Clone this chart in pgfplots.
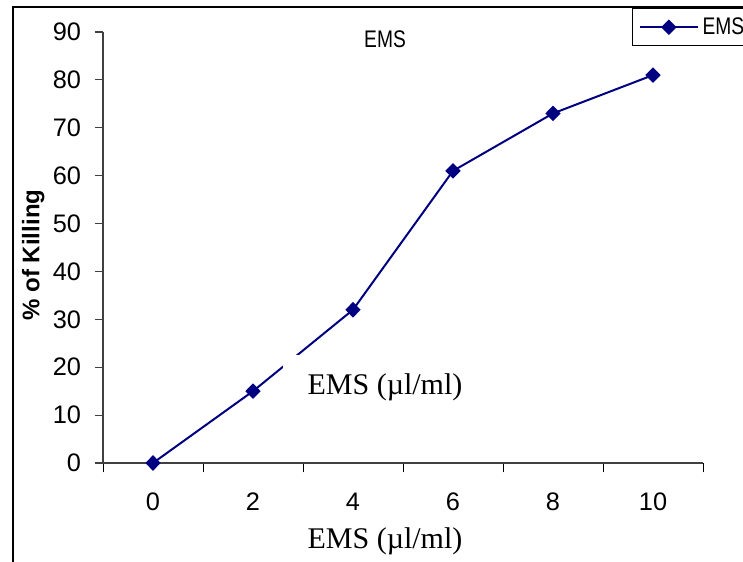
\documentclass[border=0pt]{standalone}
\usepackage{fontspec}
\usepackage{pgfplots}
\pgfplotsset{compat=1.18}
\setmainfont{Liberation Serif}
\newfontfamily\arial{Liberation Sans}
\newfontfamily\arialc[FakeStretch=0.8]{Liberation Sans}
\definecolor{navy}{RGB}{0,0,128}
\begin{document}
\begin{tikzpicture}
\clip (0pt,0pt) rectangle (557.25pt,420.75pt);
\fill[white] (0pt,0pt) rectangle (557.25pt,420.75pt);
\draw[black, line width=0.8pt] (9.75pt,-5pt) -- (9.75pt,415.5pt) -- (570pt,415.5pt);
\begin{axis}[
  at={(77.25pt,73.5pt)}, anchor=south west,
  scale only axis, width=450pt, height=323.25pt,
  xmin=-1, xmax=11, ymin=0, ymax=90,
  axis x line=bottom, axis y line=left,
  axis line style={-, black!75, line width=0.8pt},
  xtick={0,2,...,10},
  minor xtick={-1,1,...,11},
  ytick={0,10,...,90},
  tick align=outside,
  major tick length=6pt, minor tick length=7pt,
  major x tick style={draw=none},
  minor x tick style={black, line width=0.7pt},
  major y tick style={black!75, line width=0.8pt},
  tick label style={font=\arial\fontsize{19}{22}\selectfont},
  yticklabel style={xshift=-7pt},
  xticklabel style={yshift=-13pt},
  /pgf/number format/assume math mode=true,
  clip=false,
  legend style={at={(0.8817,1.0557)}, anchor=north west, draw=black, line width=0.8pt,
    font=\arialc\fontsize{18}{20}\selectfont, inner xsep=5pt, inner ysep=5pt, cells={anchor=west}},
  legend image code/.code={\draw[#1, mark repeat=2, mark phase=2] plot coordinates {(0pt,0pt) (21.5pt,0pt) (43pt,0pt)};},
]
\addplot[color=navy, line width=1.5pt, mark=diamond*, mark size=4.8pt, mark options={xscale=1.3}]
  coordinates {(0,0) (2,15) (4,32) (6,61) (8,73) (10,81)};
\addlegendentry{\hspace{1pt}EMS}
\end{axis}
\fill[white] (212.25pt,108pt) rectangle (360pt,154.5pt);
\node[font=\fontsize{22.5}{25}\selectfont] at (288.75pt,130.5pt) {EMS (µl/ml)};
\node[font=\fontsize{22.5}{25}\selectfont] at (288.75pt,15pt) {EMS (µl/ml)};
\node[font=\arialc\fontsize{18}{20}\selectfont] at (288.75pt,391pt) {EMS};
\node[font=\arial\bfseries\fontsize{18}{21}\selectfont, rotate=90] at (25pt,229.5pt) {\% of Killing};
\end{tikzpicture}
\end{document}
